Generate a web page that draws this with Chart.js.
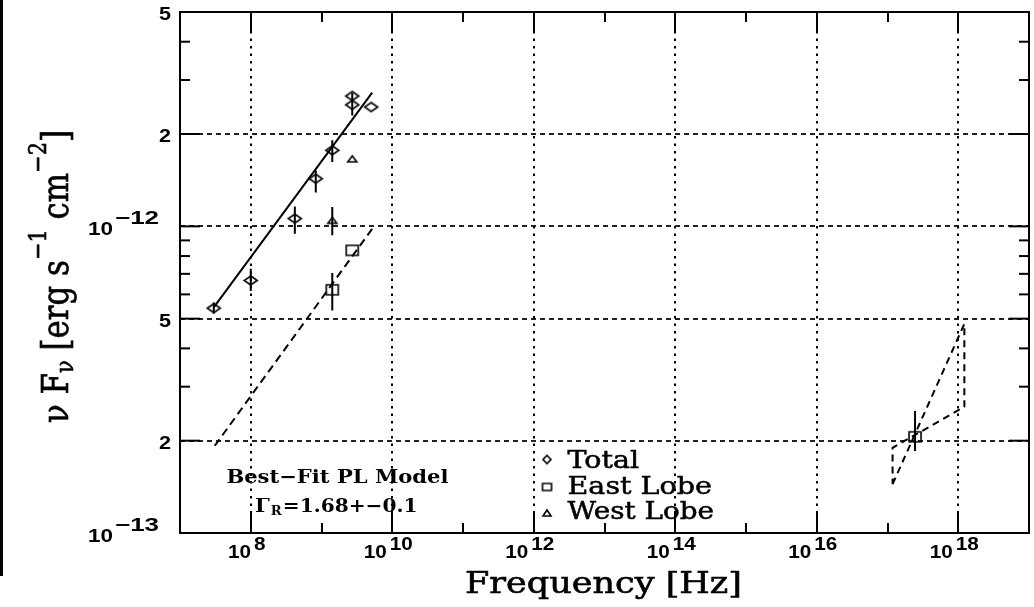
<!DOCTYPE html>
<html>
<head>
<meta charset="utf-8">
<script src="https://cdn.jsdelivr.net/npm/chart.js@4/dist/chart.umd.min.js"></script>
<style>
  html, body { margin: 0; padding: 0; background: #fff; }
</style>
</head>
<body>
<canvas id="sed" width="1034" height="607"></canvas>
<script>
// Total flux (diamonds)
const totalFreq = [3.0e7, 1.0e8, 4.2e8, 8.3e8, 1.42e9, 2.72e9, 2.72e9, 5.03e9];
const totalFlux = [5.41e-13, 6.66e-13, 1.06e-12, 1.43e-12, 1.77e-12, 2.66e-12, 2.49e-12, 2.45e-12];
const totalLo   = [5.20e-13, 6.15e-13, 9.46e-13, 1.29e-12, 1.62e-12, 2.30e-12, null, null];
const totalHi   = [5.64e-13, 7.27e-13, 1.16e-12, 1.52e-12, 1.91e-12, 2.72e-12, null, null];

// East lobe (squares), last one is the X-ray point
const eastFreq = [1.42e9, 2.72e9, 2.45e17];
const eastFlux = [6.21e-13, 8.35e-13, 2.06e-13];
const eastLo   = [5.32e-13, null, 1.85e-13];
const eastHi   = [7.04e-13, null, 2.50e-13];

// West lobe (triangles)
const westFreq = [1.42e9, 2.72e9];
const westFlux = [1.046e-12, 1.66e-12];
const westLo   = [9.35e-13, null];
const westHi   = [1.156e-12, null];

// best-fit power laws
const fitFreq = [3.0e7, 5.2e9];
const fitFlux = [5.44e-13, 2.73e-12];
const lobeFitFreq = [3.1e7, 5.26e9];
const lobeFitFlux = [1.925e-13, 9.85e-13];

// X-ray bow tie (closed outline)
const bowFreq = [1.18e17, 1.22e18, 1.22e18, 1.18e17, 1.18e17];
const bowFlux = [1.443e-13, 4.81e-13, 2.58e-13, 1.896e-13, 1.443e-13];

// axes
const xMajor = [1e8, 1e10, 1e12, 1e14, 1e16, 1e18];
const xMinor = [1e9, 1e11, 1e13, 1e15, 1e17];
const xTickExp = ['8', '10', '12', '14', '16', '18'];
const yMajor = [2e-13, 5e-13, 1e-12, 2e-12];
const yMinor = [3e-13, 4e-13, 6e-13, 7e-13, 8e-13, 9e-13, 3e-12, 4e-12];
const yLabelVals = [1e-13, 2e-13, 5e-13, 1e-12, 2e-12, 5e-12];
const yLabelBase = ['10', '2', '5', '10', '2', '5'];
const yLabelExp  = ['\u221213', '', '', '\u221212', '', ''];

const pts = (xs, ys) => xs.map((v, i) => ({ x: v, y: ys[i] }));

function errorSegments(freq, lo, hi) {
  const out = [];
  freq.forEach((f, i) => {
    if (lo[i] == null) return;
    out.push({ x: f, y: lo[i] }, { x: f, y: hi[i] }, { x: f, y: null });
  });
  return out;
}

function makeMarker(kind, w, h) {
  const c = document.createElement('canvas');
  c.width = w + 4; c.height = h + 4;
  const g = c.getContext('2d');
  g.strokeStyle = '#000'; g.lineWidth = 1.6;
  g.translate(2, 2);
  g.beginPath();
  if (kind === 'diamond') {
    g.moveTo(w / 2, 0); g.lineTo(w, h / 2); g.lineTo(w / 2, h); g.lineTo(0, h / 2); g.closePath();
  } else if (kind === 'square') {
    g.rect(0, 0, w, h);
  } else {
    g.moveTo(w / 2, 0); g.lineTo(w, h); g.lineTo(0, h); g.closePath();
  }
  g.stroke();
  return c;
}

const diamondMark = makeMarker('diamond', 13, 9);
const squareMark = makeMarker('square', 12, 10);
const triMark = makeMarker('tri', 9, 6);

// draw text stretched horizontally (to a width if given)
function drawText(ctx, str, x, y, font, opt = {}) {
  ctx.save();
  ctx.font = font;
  const nat = ctx.measureText(str).width;
  const sx = opt.width ? opt.width / nat : (opt.sx || 1);
  const w = nat * sx;
  let x0 = x;
  if (opt.align === 'right') x0 = x - w;
  if (opt.align === 'center') x0 = x - w / 2;
  ctx.translate(x0, y);
  ctx.scale(sx, 1);
  if (opt.bold) { ctx.lineWidth = opt.bold; ctx.strokeText(str, 0, 0); }
  ctx.fillText(str, 0, 0);
  ctx.restore();
  return w;
}

const TICKFONT = 'bold 18px "Liberation Sans"';

const framePlugin = {
  id: 'frame',
  afterDatasetsDraw(chart) {
    const { ctx, chartArea: a, scales: { x, y } } = chart;
    ctx.save();
    ctx.strokeStyle = '#000';
    ctx.fillStyle = '#000';
    ctx.lineWidth = 2;
    const seg = (x1, y1, x2, y2) => { ctx.beginPath(); ctx.moveTo(x1, y1); ctx.lineTo(x2, y2); ctx.stroke(); };

    // vertical dotted grid at the labelled decades
    xMajor.forEach(v => {
      const p = Math.round(x.getPixelForValue(v));
      for (let yy = a.top + 4; yy < a.bottom - 2; yy += 7.5) ctx.fillRect(p - 1, yy, 2, 2.5);
    });

    xMajor.forEach(v => { const p = Math.round(x.getPixelForValue(v)); seg(p, a.bottom, p, a.bottom - 20); seg(p, a.top, p, a.top + 20); });
    xMinor.forEach(v => { const p = Math.round(x.getPixelForValue(v)); seg(p, a.bottom, p, a.bottom - 10); seg(p, a.top, p, a.top + 10); });
    yMajor.forEach(v => { const p = y.getPixelForValue(v); seg(a.left, p, a.left + 20, p); seg(a.right, p, a.right - 20, p); });
    yMinor.forEach(v => { const p = y.getPixelForValue(v); seg(a.left, p, a.left + 10, p); seg(a.right, p, a.right - 10, p); });
    ctx.strokeRect(a.left, a.top, a.right - a.left, a.bottom - a.top);

    // left edge bar of the scanned page
    ctx.fillRect(0, 0, 3, 576);

    // x tick labels
    ctx.textBaseline = 'alphabetic';
    xMajor.forEach((v, i) => {
      const p = x.getPixelForValue(v);
      ctx.font = TICKFONT;
      const sx = 1.15;
      const wb = ctx.measureText('10').width * sx;
      const we = ctx.measureText(xTickExp[i]).width * sx;
      const start = p - 4 - (wb + 3 + we) / 2;
      drawText(ctx, '10', start, a.bottom + 25, TICKFONT, { sx });
      drawText(ctx, xTickExp[i], start + wb + 3, a.bottom + 17, TICKFONT, { sx });
    });

    // y tick labels
    yLabelVals.forEach((v, i) => {
      const p = y.getPixelForValue(v);
      if (yLabelExp[i]) {
        const we = drawText(ctx, yLabelExp[i], 159, p - 2, TICKFONT, { width: 44, align: 'right' });
        drawText(ctx, '10', 159 - we - 2, p + 9, TICKFONT, { width: 25, align: 'right' });
      } else {
        drawText(ctx, yLabelBase[i], 171, p + 8, TICKFONT, { sx: 1.2, align: 'right' });
      }
    });

    // axis titles
    drawText(ctx, 'Frequency [Hz]', 465, 593, '29px "DejaVu Serif"', { width: 277, bold: 0.6 });

    ctx.save();
    ctx.translate(68, 423);
    ctx.rotate(-Math.PI / 2);
    const main = '28px "DejaVu Serif"', small = '19px "DejaVu Serif"';
    const segs = [['\u03bd', main, 0], [' F', main, 0], ['\u03bd', small, 4], [' [erg s', main, 0],
                  ['\u22121', small, -17], [' cm', main, 0], ['\u22122', small, -17], [']', main, 0]];
    let total = 0;
    segs.forEach(s => { ctx.font = s[1]; total += ctx.measureText(s[0]).width; });
    ctx.scale(293 / total, 1.3);
    ctx.lineWidth = 0.5;
    let cx = 0;
    segs.forEach(s => {
      ctx.font = s[1];
      ctx.fillText(s[0], cx, s[2]);
      ctx.strokeText(s[0], cx, s[2]);
      cx += ctx.measureText(s[0]).width;
    });
    ctx.restore();

    // legend
    ctx.drawImage(makeMarker('diamond', 8, 8), 541, 453.5);
    ctx.drawImage(makeMarker('square', 9, 7), 540.5, 481.5);
    ctx.drawImage(makeMarker('tri', 8, 6), 541, 508);
    const lf = '24px "DejaVu Serif"';
    drawText(ctx, 'Total', 567.5, 467.5, lf, { width: 71.5, bold: 0.5 });
    drawText(ctx, 'East Lobe', 567.5, 494.3, lf, { width: 144.5, bold: 0.5 });
    drawText(ctx, 'West Lobe', 567.5, 519.3, lf, { width: 146.5, bold: 0.5 });

    // fit annotation
    const bf = 'bold 19px "DejaVu Serif"';
    drawText(ctx, 'Best\u2212Fit PL Model', 226.4, 482.5, bf, { width: 222 });
    const gw = drawText(ctx, '\u0393', 255, 512, bf, { sx: 1.1 });
    const rw = drawText(ctx, 'R', 255 + gw + 1, 515, 'bold 12px "DejaVu Serif"', { sx: 1.1 });
    drawText(ctx, '=1.68+\u22120.1', 255 + gw + rw + 2, 512, bf, { width: 417.5 - (255 + gw + rw + 2) });

    ctx.restore();
  }
};

new Chart(document.getElementById('sed'), {
  type: 'scatter',
  data: {
    datasets: [
      { data: pts(fitFreq, fitFlux), showLine: true, borderColor: '#000', borderWidth: 2, pointRadius: 0 },
      { data: pts(lobeFitFreq, lobeFitFlux), showLine: true, borderColor: '#000', borderWidth: 2, borderDash: [8, 5], pointRadius: 0 },
      { data: pts(bowFreq, bowFlux), showLine: true, borderColor: '#000', borderWidth: 2, borderDash: [7, 5], pointRadius: 0 },
      { data: errorSegments(totalFreq, totalLo, totalHi), showLine: true, spanGaps: false, borderColor: '#000', borderWidth: 2, pointRadius: 0 },
      { data: errorSegments(eastFreq, eastLo, eastHi), showLine: true, spanGaps: false, borderColor: '#000', borderWidth: 2, pointRadius: 0 },
      { data: errorSegments(westFreq, westLo, westHi), showLine: true, spanGaps: false, borderColor: '#000', borderWidth: 2, pointRadius: 0 },
      { label: 'Total', data: pts(totalFreq, totalFlux), pointStyle: diamondMark },
      { label: 'East Lobe', data: pts(eastFreq, eastFlux), pointStyle: squareMark },
      { label: 'West Lobe', data: pts(westFreq, westFlux), pointStyle: triMark }
    ]
  },
  options: {
    responsive: false,
    animation: false,
    layout: { padding: { left: 180, right: 4, top: 12, bottom: 74 } },
    plugins: { legend: { display: false }, tooltip: { enabled: false } },
    scales: {
      x: {
        type: 'logarithmic', min: 1e7, max: 1e19, bounds: 'data',
        ticks: { display: false },
        grid: { display: false, drawTicks: false },
        border: { display: false }
      },
      y: {
        type: 'logarithmic', min: 1e-13, max: 5e-12, bounds: 'data',
        afterBuildTicks: s => { s.ticks = yMajor.map(v => ({ value: v })); },
        ticks: { display: false },
        grid: { color: '#222', lineWidth: 2, drawTicks: false },
        border: { display: false, dash: [5, 4] }
      }
    }
  },
  plugins: [framePlugin]
});
</script>
</body>
</html>
